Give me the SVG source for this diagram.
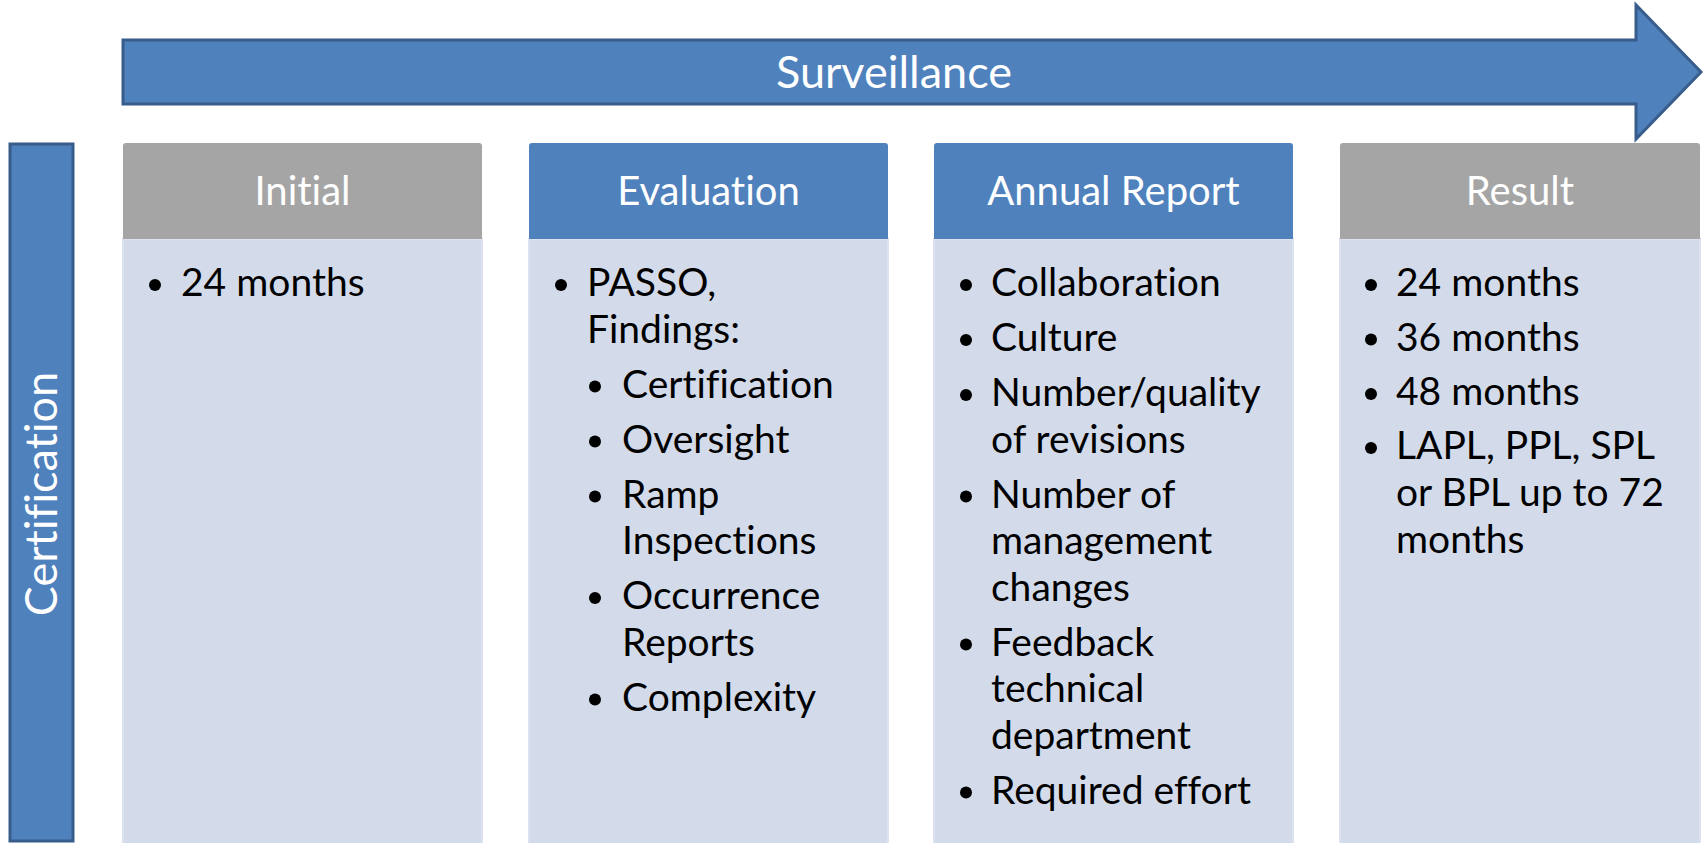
<svg xmlns="http://www.w3.org/2000/svg" width="1704" height="843" viewBox="0 0 1704 843">
<style>
.shape{fill:#4F81BD;stroke:#385D8A;stroke-width:3}
.hdr-gray{fill:#A5A5A5}
.hdr-blue{fill:#4F81BD}
.body{fill:#D3DBEA;stroke:#DCE2EF;stroke-width:2}
text{font-variant-ligatures:none}
.ht{font-family:Lato,"Liberation Sans",sans-serif;font-size:40px;fill:#FFFFFF;text-anchor:middle}
.big{font-family:Lato,"Liberation Sans",sans-serif;font-size:45px;fill:#FFFFFF;text-anchor:middle}
.t{font-family:Lato,"Liberation Sans",sans-serif;font-size:39px;fill:#000000}
.dot{fill:#000000}
</style>
<rect width="1704" height="843" fill="#FFFFFF"/>
<g id="surveillance">
<polygon class="shape" points="123,40 1636,40 1636,5 1701,72 1636,139 1636,104 123,104"/>
<text class="big" x="894" y="88">Surveillance</text>
</g>
<g id="certification">
<rect class="shape" x="10" y="144" width="63" height="697"/>
<text class="big" transform="translate(57,494) rotate(-90)" x="0" y="0">Certification</text>
</g>
<g id="initial">
<rect class="body" x="123" y="239" width="359" height="610"/>
<path class="hdr-gray" d="M123,239 V146 Q123,143 126,143 H479 Q482,143 482,146 V239 Z"/>
<text class="ht" x="302.5" y="205">Initial</text>
<circle class="dot" cx="155" cy="285" r="6"/>
<text class="t" x="181" y="296">24 months</text>
</g>
<g id="evaluation">
<rect class="body" x="529" y="239" width="359" height="610"/>
<path class="hdr-blue" d="M529,239 V146 Q529,143 532,143 H885 Q888,143 888,146 V239 Z"/>
<text class="ht" x="708.5" y="205">Evaluation</text>
<circle class="dot" cx="561" cy="285" r="6"/>
<text class="t" x="587" y="296">PASSO,</text>
<text class="t" x="587" y="342.5">Findings:</text>
<circle class="dot" cx="595" cy="386.5" r="6"/>
<text class="t" x="622" y="397.5">Certification</text>
<circle class="dot" cx="595" cy="441.5" r="6"/>
<text class="t" x="622" y="452.5">Oversight</text>
<circle class="dot" cx="595" cy="496.5" r="6"/>
<text class="t" x="622" y="507.5">Ramp</text>
<text class="t" x="622" y="554">Inspections</text>
<circle class="dot" cx="595" cy="598" r="6"/>
<text class="t" x="622" y="609">Occurrence</text>
<text class="t" x="622" y="655.5">Reports</text>
<circle class="dot" cx="595" cy="699.5" r="6"/>
<text class="t" x="622" y="710.5">Complexity</text>
</g>
<g id="annual-report">
<rect class="body" x="934" y="239" width="359" height="610"/>
<path class="hdr-blue" d="M934,239 V146 Q934,143 937,143 H1290 Q1293,143 1293,146 V239 Z"/>
<text class="ht" x="1113.5" y="205">Annual Report</text>
<circle class="dot" cx="966" cy="285" r="6"/>
<text class="t" x="991" y="296">Collaboration</text>
<circle class="dot" cx="966" cy="340" r="6"/>
<text class="t" x="991" y="351">Culture</text>
<circle class="dot" cx="966" cy="395" r="6"/>
<text class="t" x="991" y="406">Number/quality</text>
<text class="t" x="991" y="452.5">of revisions</text>
<circle class="dot" cx="966" cy="496.5" r="6"/>
<text class="t" x="991" y="507.5">Number of</text>
<text class="t" x="991" y="554">management</text>
<text class="t" x="991" y="600.5">changes</text>
<circle class="dot" cx="966" cy="644.5" r="6"/>
<text class="t" x="991" y="655.5">Feedback</text>
<text class="t" x="991" y="702">technical</text>
<text class="t" x="991" y="748.5">department</text>
<circle class="dot" cx="966" cy="792.5" r="6"/>
<text class="t" x="991" y="803.5">Required effort</text>
</g>
<g id="result">
<rect class="body" x="1340" y="239" width="360" height="610"/>
<path class="hdr-gray" d="M1340,239 V146 Q1340,143 1343,143 H1697 Q1700,143 1700,146 V239 Z"/>
<text class="ht" x="1520" y="205">Result</text>
<circle class="dot" cx="1371" cy="285" r="6"/>
<text class="t" x="1396" y="296">24 months</text>
<circle class="dot" cx="1371" cy="339.5" r="6"/>
<text class="t" x="1396" y="350.5">36 months</text>
<circle class="dot" cx="1371" cy="394" r="6"/>
<text class="t" x="1396" y="405">48 months</text>
<circle class="dot" cx="1371" cy="448" r="6"/>
<text class="t" x="1396" y="459">LAPL, PPL, SPL</text>
<text class="t" x="1396" y="506">or BPL up to 72</text>
<text class="t" x="1396" y="553">months</text>
</g>
<g id="connectors"></g>
</svg>
